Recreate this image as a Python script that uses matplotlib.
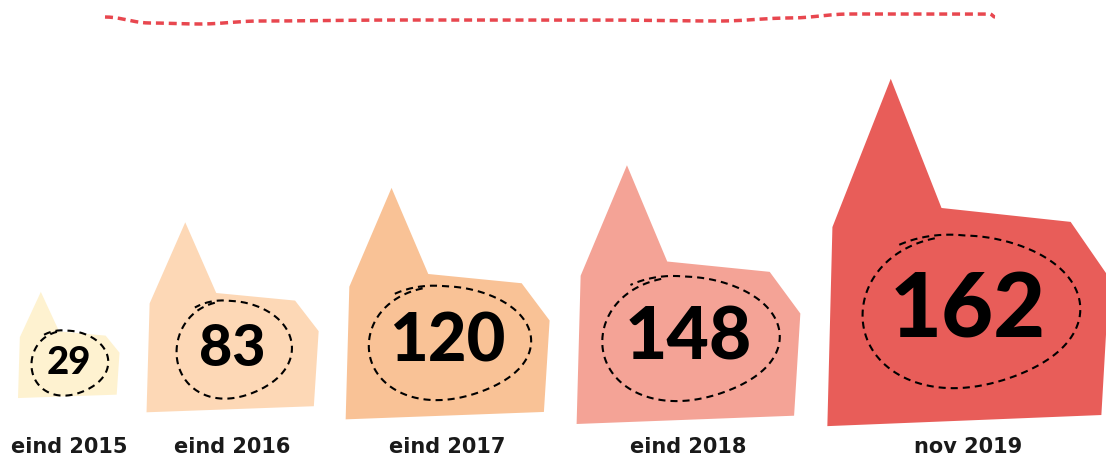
import numpy as np
import matplotlib
matplotlib.use("Agg")
from matplotlib import pyplot as plt

labels = ["eind 2015", "eind 2016", "eind 2017", "eind 2018", "nov 2019"]
values = [29, 83, 120, 148, 162]
colors = ["#fef2d0", "#fdd8b6", "#f9c296", "#f4a396", "#e85d59"]

# silhouet van het gebouw, als fractie van breedte / hoogte
huis_x = [0, 0.018, 0.225, 0.405, 0.863, 1.0, 0.972]
huis_y = [0, 0.573, 1.0, 0.628, 0.588, 0.427, 0.032]

# decoratieve rode lijn bovenaan (steunpunten)
lijn_x = [105, 150, 200, 260, 400, 600, 720, 790, 850, 990, 995]
lijn_y = [17, 23, 24, 21, 20, 20, 21, 18, 14, 14, 17]

fig = plt.figure(figsize=(11.06, 4.59), dpi=100)
ax = fig.add_axes([0, 0, 1, 1])
ax.set_xlim(0, 1106)
ax.set_ylim(459, 0)
ax.axis("off")

# rode golflijn: cosinus-overgang tussen steunpunten
lx, ly = [], []
for i in range(len(lijn_x) - 1):
    s = np.linspace(0, 1, 30)
    m = (1 - np.cos(s * np.pi)) / 2
    lx.extend(lijn_x[i] + (lijn_x[i + 1] - lijn_x[i]) * s)
    ly.extend(lijn_y[i] + (lijn_y[i + 1] - lijn_y[i]) * m)
ax.plot(lx, ly, color="#e8474f", lw=2.5, dashes=(2.3, 1.4), solid_capstyle="butt")

basis = 22.5 * np.sqrt(values) - 15
hoogtes = basis.copy()
hoogtes[-1] *= 1.28
breedtes = hoogtes * (1.02 - 0.0006 * hoogtes)

x = 18
for i, v in enumerate(values):
    h = hoogtes[i]
    w = breedtes[i]
    onder = 380 + 0.17 * basis[i]
    px = x + np.array(huis_x) * w
    py = onder - np.array(huis_y) * h
    ax.fill(px, py, color=colors[i], lw=0)

    cx = x + w / 2
    cy = onder - 0.33 * h
    fs = 10 + 0.165 * basis[i] * (1.22 if i == len(values) - 1 else 1.0)
    ax.text(cx, cy, str(v), fontsize=fs, fontweight="black", family=["Lato", "DejaVu Sans"],
            ha="center", va="center", color="black")

    # handgetekende stippel-ellips met klein staartje
    eh = 1.75 * fs / 0.72
    ew = eh * (0.65 + 0.23 * len(str(v)))
    t = np.linspace(1.9, 1.9 + 2 * np.pi + 0.35, 300)
    r = 1 + 0.04 * np.sin(2 * t + 1) + 0.03 * np.cos(3 * t)
    r = r + np.clip(t - (1.9 + 2 * np.pi - 0.3), 0, None) * 0.12
    ex = cx + ew / 2 * r * np.cos(t)
    ey = cy - eh / 2 * r * np.sin(t)
    ax.plot(ex, ey, color="black", lw=1.5, dashes=(3.4, 2.4))

    ax.text(cx, 447, labels[i], fontsize=15, fontweight="bold", family="DejaVu Sans",
            ha="center", va="center", color="#1a1a1a")
    x += w + 27

fig.savefig("out.png", dpi=100)
